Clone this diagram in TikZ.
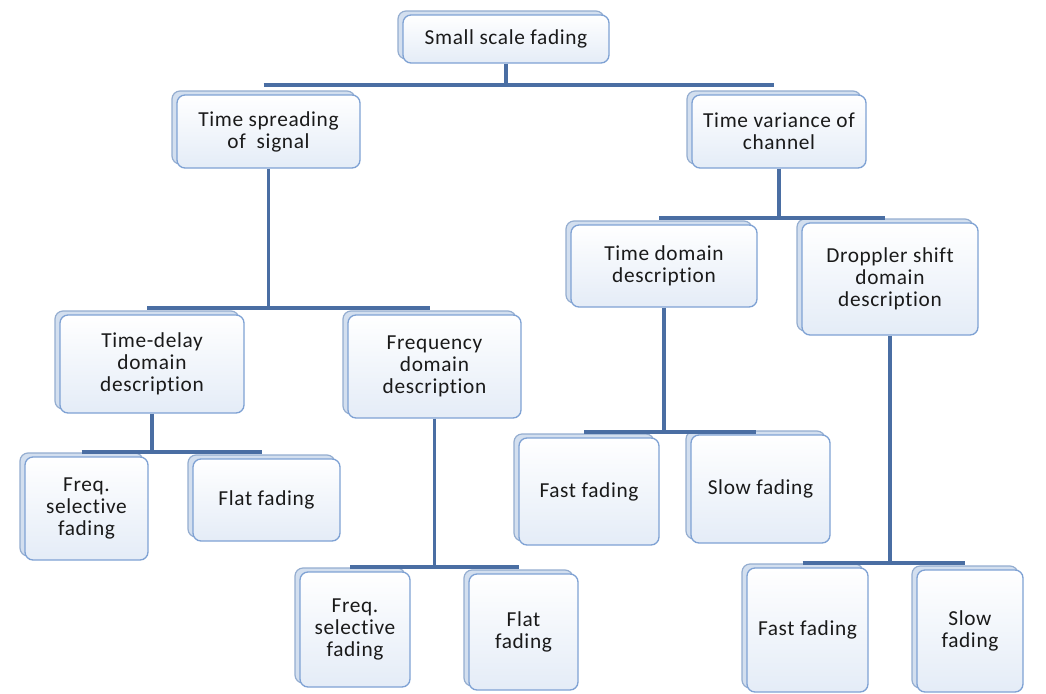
\documentclass[tikz,border=0pt]{standalone}
\usepackage{fontspec}
\setmainfont{Carlito}[LetterSpace=3,Ligatures={NoCommon}]
\usetikzlibrary{calc}
\definecolor{connc}{HTML}{4A6EA3}
\definecolor{frontb}{HTML}{7FA2D4}
\definecolor{backb}{HTML}{94ADD0}
\definecolor{backf}{HTML}{D3DFEF}
\definecolor{frontbot}{HTML}{E4ECF7}
\definecolor{txt}{HTML}{1A1A1A}
\newcommand\dbox[6]{%
  \node[backbox, minimum width={(#4-#2)*0.75pt}, minimum height={(#5-#3)*0.75pt}] (#1b) at ({(#2+#4)/2-5},{(#3+#5)/2-4}) {};
  \node[frontbox, minimum width={(#4-#2)*0.75pt}, minimum height={(#5-#3)*0.75pt}] (#1) at ({(#2+#4)/2},{(#3+#5)/2}) {#6};
}
\begin{document}
\begin{tikzpicture}[x=0.75pt,y=-0.75pt,
  frontbox/.style={draw=frontb, line width=1pt, rounded corners=6pt, top color=white, bottom color=frontbot, inner sep=0pt, align=center, text=txt, font=\fontsize{16}{16.5}\selectfont},
  backbox/.style={draw=backb, line width=0.9pt, rounded corners=6pt, fill=backf, inner sep=0pt},
  conn/.style={draw=connc, line width=2.5pt}]
\fill[white] (0,0) rectangle (1046,693);
\useasboundingbox (0,0) rectangle (1046,693);

\dbox{A}{403}{15}{609}{63}{Small scale fading}
\dbox{B}{177}{95}{360}{168}{Time spreading\\of\ \ signal}
\dbox{C}{692}{95}{866}{168}{Time variance of\\channel}
\dbox{D}{60}{315}{244}{413}{Time-delay\\domain\\description}
\dbox{E}{348}{315}{521}{418}{Frequency\\domain\\description}
\dbox{F}{25}{457}{148}{560}{Freq.\\selective\\fading}
\dbox{G}{193}{459}{340}{541}{Flat fading}
\dbox{H}{300}{572}{410}{687}{Freq.\\selective\\fading}
\dbox{I}{469}{574}{578}{690}{Flat\\fading}
\dbox{J}{571}{225}{757}{307}{Time domain\\description}
\dbox{K}{802}{223}{978}{335}{Droppler shift\\domain\\description}
\dbox{L}{519}{438}{659}{545}{Fast fading}
\dbox{M}{691}{435}{830}{543}{Slow fading}
\dbox{N}{747}{568}{868}{692}{Fast fading}
\dbox{O}{917}{570}{1023}{692}{Slow\\fading}

\coordinate (busA) at (0,85);
\coordinate (busB) at (0,308);
\coordinate (busC) at (0,218);
\coordinate (busD) at (0,452);
\coordinate (busE) at (0,567);
\coordinate (busJ) at (0,432);
\coordinate (busK) at (0,563);

\draw[conn] (A.south) -- (A.south |- busA);
\draw[conn] (Bb.north |- busA) -- (Cb.north |- busA);
\draw[conn] (B.south) -- (B.south |- busB);
\draw[conn] (Db.north |- busB) -- (Eb.north |- busB);
\draw[conn] (C.south) -- (C.south |- busC);
\draw[conn] (Jb.north |- busC) -- (Kb.north |- busC);
\draw[conn] (D.south) -- (D.south |- busD);
\draw[conn] (Fb.north |- busD) -- (Gb.north |- busD);
\draw[conn] (E.south) -- (E.south |- busE);
\draw[conn] (Hb.north |- busE) -- (Ib.north |- busE);
\draw[conn] (J.south) -- (J.south |- busJ);
\draw[conn] (Lb.north |- busJ) -- (Mb.north |- busJ);
\draw[conn] (K.south) -- (K.south |- busK);
\draw[conn] (Nb.north |- busK) -- (Ob.north |- busK);
\end{tikzpicture}
\end{document}
